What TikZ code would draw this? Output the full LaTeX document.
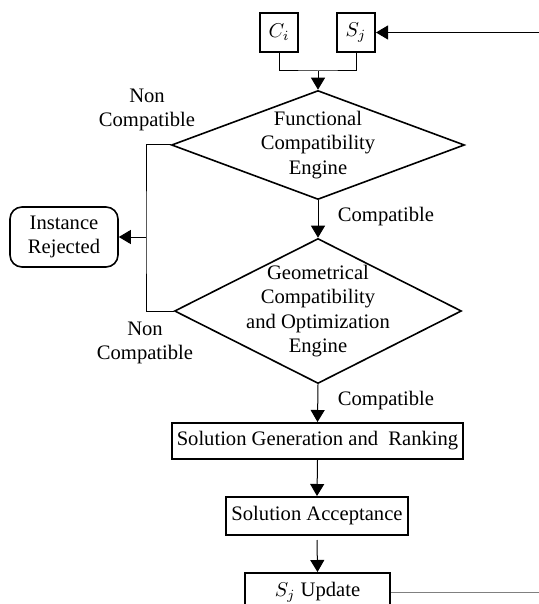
\documentclass[tikz,border=0pt]{standalone}
\usepackage{fontspec}
\setmainfont{Liberation Serif}
\usetikzlibrary{shapes.geometric, arrows.meta}

\tikzset{
	box/.style = {draw, line width = 1pt, inner sep = 2pt, minimum height = 19pt},
	decision/.style = {draw, diamond, line width = 0.8pt, align = center},
	flow/.style = {-{Triangle[length = 6pt, width = 7pt]}, line width = 0.5pt},
	wire/.style = {line width = 0.5pt},
	label text/.style = {align = center}
}

\begin{document}
\begin{tikzpicture}[x = 0.5pt, y = -0.5pt, font = \fontsize{10.3pt}{12.3pt}\selectfont]
		\useasboundingbox (0,0) rectangle (539,604);
		\clip (0,0) rectangle (539,604);
		
		\def\mid{318};
		\def\bus{146};
		\def\edge{539};
		
		\coordinate (merge) at (\mid, 71);
		\coordinate (bus) at (\bus, 237);
		\coordinate (edge top) at (\edge, 32.5);
		\coordinate (edge bottom) at (\edge, 592);
		
		% inputs
		\node [box, minimum width = 19pt, minimum height = 19.5pt] (ci) at (279, 32.5) {$C_i$};
		\node [box, minimum width = 19pt, minimum height = 19.5pt] (sj) at (356, 32.5) {$S_j$};
		
		% engines
		\node [decision, shape aspect = 2.7, inner sep = -4pt, minimum width = 146.5pt, minimum height = 54.5pt] (functional) at (\mid, 145) {Functional\\Compatibility\\Engine};
		\node [decision, shape aspect = 1.98, inner sep = -8pt, minimum width = 143.5pt, minimum height = 72.5pt] (geometrical) at (\mid, 311) {Geometrical\\Compatibility\\and Optimization\\Engine};
		
		\node [draw, line width = 0.8pt, rounded corners = 6pt, align = center, minimum width = 54pt, minimum height = 30pt, inner sep = 1pt] (rejected) at (64, 237) {Instance\\Rejected};
		
		% outputs
		\node [box, minimum width = 145.5pt, minimum height = 18pt] (ranking) at (317.5, 441) {Solution Generation and~ Ranking};
		\node [box, minimum width = 91pt] (acceptance) at (317, 516) {Solution Acceptance};
		\node [box, minimum width = 72.5pt] (update) at (317.5, 592) {$S_j$ Update};
		
		% labels
		\node [label text] (non top) at (147, 110) {Non\\Compatible};
		\node [label text] (non bottom) at (145, 343) {Non\\Compatible};
		\node (compatible top) at (386, 217) {Compatible};
		\node (compatible bottom) at (386, 401) {Compatible};
		
		\draw [wire] (ci.south) |- (merge) -| (sj.south);
		\draw [flow] (merge) -- (functional.north);
		\draw [flow] (functional.south) -- (geometrical.north);
		\draw [flow] (geometrical.south) -- (ranking.north);
		\draw [flow] (ranking.south) -- (acceptance.north);
		\draw [flow] ([yshift = -2pt] acceptance.south) -- (update.north);
		
		\draw [wire] (functional.west) -| (bus) |- (geometrical.west);
		\draw [flow] (bus) -- (rejected.east);
		
		\draw [wire, gray] (update.east) -- (edge bottom);
		\draw [flow] (edge top) -- (sj.east);
	\end{tikzpicture}
\end{document}
